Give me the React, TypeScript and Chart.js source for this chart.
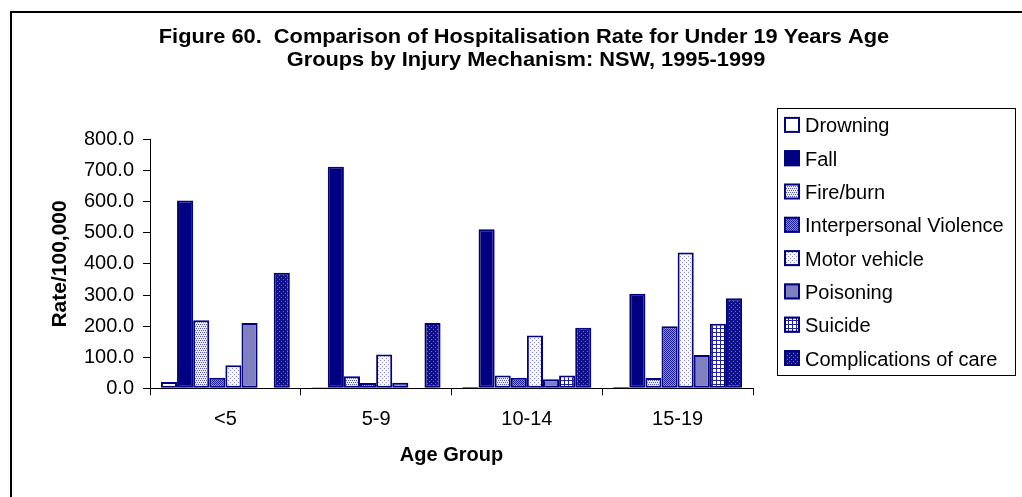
import React, { useEffect, useRef } from "react";
import { Chart, registerables } from "chart.js";

Chart.register(...registerables);

// ---------- data ----------
const categories = ["<5", "5-9", "10-14", "15-19"];
const seriesNames = [
  "Drowning",
  "Fall",
  "Fire/burn",
  "Interpersonal Violence",
  "Motor vehicle",
  "Poisoning",
  "Suicide",
  "Complications of care",
];
const drowning = [20, 3, 4, 4];
const fall = [604, 713, 512, 304];
const fireBurn = [219, 39, 41, 33];
const interpersonalViolence = [34, 17, 34, 200];
const motorVehicle = [74, 109, 170, 437];
const poisoning = [210, 18, 29, 107];
const suicide = [0, 0, 41, 208];
const complicationsOfCare = [372, 210, 195, 290];
const yMin = 0;
const yMax = 800;
const yStep = 100;
const titleLines = [
  "Figure 60.  Comparison of Hospitalisation Rate for Under 19 Years Age",
  "Groups by Injury Mechanism: NSW, 1995-1999",
];
const xTitle = "Age Group";
const yTitle = "Rate/100,000";

const FONT = "'Liberation Sans', Arial, Helvetica, sans-serif";
const NAVY = "#000080";

function makePattern(rows: string[], fg: string, bg: string): CanvasPattern | string {
  const h = rows.length;
  const w = rows[0].length;
  const c = document.createElement("canvas");
  c.width = w;
  c.height = h;
  const x = c.getContext("2d");
  if (!x) return bg;
  x.fillStyle = bg;
  x.fillRect(0, 0, w, h);
  x.fillStyle = fg;
  rows.forEach((r, j) =>
    r.split("").forEach((ch, i) => {
      if (ch === "#") x.fillRect(i, j, 1, 1);
    })
  );
  return x.createPattern(c, "repeat") || bg;
}

export default function App() {
  const ref = useRef<HTMLCanvasElement | null>(null);

  useEffect(() => {
    if (!ref.current) return;
    const fills: (CanvasPattern | string)[] = [
      "#ffffff",
      NAVY,
      makePattern(["#.#.", "....", ".#.#", "...."], "#5a5aad", "#ececf6"),
      makePattern(["#.#.", ".#.#", "#.#.", ".#.#"], "#202090", "#8c8cc8"),
      makePattern(["#...", "....", "..#.", "...."], "#8c8cc8", "#f6f6fb"),
      "#8080c0",
      makePattern(["####", "#...", "#...", "#..."], "#23238f", "#ffffff"),
      makePattern(["####", "#.##", "####", "###."], "#10108a", "#6a6ab5"),
    ];
    const values = [
      drowning,
      fall,
      fireBurn,
      interpersonalViolence,
      motorVehicle,
      poisoning,
      suicide,
      complicationsOfCare,
    ];

    const decor = {
      id: "decor",
      afterDraw(chart: any) {
        const ctx = chart.ctx as CanvasRenderingContext2D;
        ctx.save();
        // outer frame
        ctx.strokeStyle = "#000";
        ctx.lineWidth = 2;
        ctx.strokeRect(11, 12, 1100, 1000);
        // title
        ctx.fillStyle = "#000";
        ctx.font = `bold 20px ${FONT}`;
        ctx.textAlign = "center";
        ctx.textBaseline = "alphabetic";
        const sx = 1.09;
        ctx.save();
        ctx.scale(sx, 1);
        ctx.fillText(titleLines[0], 524 / sx, 42.7);
        ctx.fillText(titleLines[1], 526 / sx, 66);
        ctx.restore();
        // legend box
        ctx.strokeStyle = "#000";
        ctx.lineWidth = 1;
        ctx.strokeRect(777.5, 108.5, 238, 267);
        ctx.font = `20px ${FONT}`;
        ctx.textAlign = "left";
        chart.data.datasets.forEach((ds: any, i: number) => {
          const base = 132.4 + i * 33.3;
          ctx.fillStyle = ds.backgroundColor;
          ctx.fillRect(784, base - 15.5, 16, 16);
          ctx.strokeStyle = NAVY;
          ctx.lineWidth = 2;
          ctx.strokeRect(785, base - 14.5, 14, 14);
          ctx.fillStyle = "#000";
          ctx.fillText(ds.label, 805, base);
        });
        ctx.restore();
      },
    };

    const chart = new Chart(ref.current, {
      type: "bar",
      data: {
        labels: categories,
        datasets: seriesNames.map((name, i) => ({
          label: name,
          data: values[i],
          backgroundColor: fills[i] as any,
          borderColor: NAVY,
          borderWidth: 2,
          borderSkipped: false,
          categoryPercentage: 0.855,
          barPercentage: 1,
        })),
      },
      options: {
        animation: false,
        responsive: false,
        maintainAspectRatio: false,
        layout: { padding: { top: 139.6, right: 269, bottom: 0, left: 0 } },
        plugins: {
          legend: { display: false },
          title: { display: false },
          tooltip: { enabled: false },
        },
        scales: {
          x: {
            grid: {
              display: true,
              drawOnChartArea: false,
              drawTicks: true,
              tickLength: 7,
              color: "#000",
              offset: true,
            },
            border: { display: true, color: "#000", width: 1 },
            ticks: {
              color: "#000",
              font: { family: FONT, size: 20 },
              padding: 12,
              maxRotation: 0,
            },
            title: {
              display: true,
              text: xTitle,
              color: "#000",
              font: { family: FONT, size: 20, weight: "bold" },
              padding: { top: 0, bottom: 30 },
            },
            afterFit: (s: any) => {
              s.height = 108.7;
            },
          },
          y: {
            min: yMin,
            max: yMax,
            ticks: {
              stepSize: yStep,
              callback: (v: any) => Number(v).toFixed(1),
              color: "#000",
              font: { family: FONT, size: 20 },
              padding: 9,
            },
            grid: {
              display: true,
              drawOnChartArea: false,
              drawTicks: true,
              tickLength: 7,
              color: "#000",
            },
            border: { display: true, color: "#000", width: 1 },
            title: {
              display: true,
              text: yTitle,
              color: "#000",
              font: { family: FONT, size: 21, weight: "bold" },
              padding: { top: 48, bottom: 0 },
            },
            afterFit: (s: any) => {
              s.width = 150;
            },
          },
        },
      } as any,
      plugins: [decor],
    });
    return () => chart.destroy();
  }, []);

  return (
    <div style={{ position: "fixed", left: 0, top: 0, width: 1022, height: 497, background: "#fff" }}>
      <canvas ref={ref} width={1022} height={497} style={{ width: 1022, height: 497, display: "block" }} />
    </div>
  );
}
